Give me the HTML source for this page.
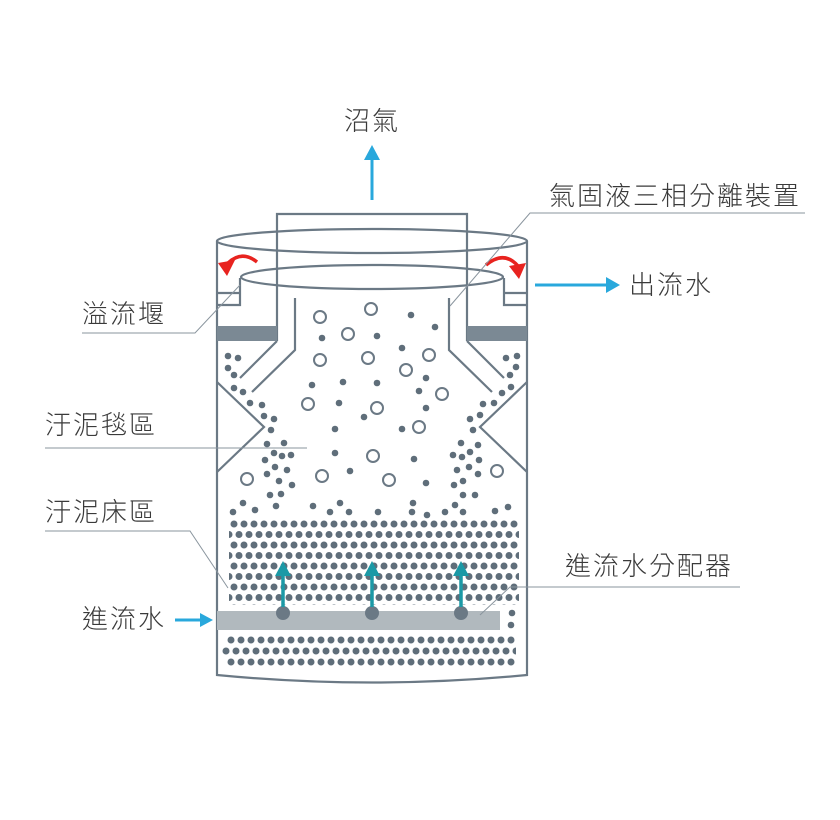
<!DOCTYPE html>
<html><head><meta charset="utf-8"><style>
html,body{margin:0;padding:0;background:#fff;}
svg{display:block}
text{font-family:"Liberation Sans","Noto Sans CJK TC","Noto Sans CJK SC",sans-serif;font-size:26px;fill:#3a3a3a;letter-spacing:2px;font-weight:300}
</style></head><body>
<svg width="840" height="820" viewBox="0 0 840 820" xmlns="http://www.w3.org/2000/svg">
<defs>
<pattern id="pa" x="229" y="519" width="10" height="21" patternUnits="userSpaceOnUse"><circle cx="5" cy="5" r="3.5" fill="#5f6e7a"/></pattern>
<pattern id="pa2" x="234" y="529.5" width="10" height="21" patternUnits="userSpaceOnUse"><circle cx="5" cy="5" r="3.5" fill="#5f6e7a"/></pattern>
<pattern id="pb" x="226" y="635" width="10" height="22" patternUnits="userSpaceOnUse"><circle cx="5" cy="5" r="3.5" fill="#5f6e7a"/></pattern>
<pattern id="pb2" x="221" y="646" width="10" height="22" patternUnits="userSpaceOnUse"><circle cx="5" cy="5" r="3.5" fill="#5f6e7a"/></pattern>
</defs>
<g fill="none" stroke="#6b7985" stroke-width="2.2">
<path d="M217,241 V675 Q372,690 527,675 V241"/>
<path d="M217,382 L264,427 L217,472 M527,382 L480,427 L527,472"/>
<path d="M277,341 V214 H467 V341"/>
<ellipse cx="372" cy="241" rx="155" ry="12"/>
<ellipse cx="372" cy="277" rx="131" ry="12"/>
<path d="M240,278 V305 H217 M240,293 H217"/>
<path d="M504,278 V305 H527 M504,293 H527"/>
<path d="M277,341 L240,378 M295,298 V350 L252,392"/>
<path d="M467,341 L504,378 M449,298 V350 L492,392"/>
</g>
<rect x="217" y="326" width="60" height="15" fill="#7b8994"/>
<rect x="467" y="326" width="60" height="15" fill="#7b8994"/>
<rect x="229" y="519" width="290" height="86" fill="url(#pa)"/>
<rect x="229" y="529.5" width="290" height="76" fill="url(#pa2)"/>
<rect x="226" y="635" width="290" height="34" fill="url(#pb)"/>
<rect x="221" y="646" width="295" height="12" fill="url(#pb2)"/>
<rect x="217" y="611" width="283" height="19" fill="#b1b9be"/>
<g fill="#6b7985"><circle cx="283" cy="613" r="7"/><circle cx="372" cy="613" r="7"/><circle cx="461" cy="613" r="7"/></g>
<g fill="#5f6e7a">
<circle cx="512" cy="613" r="3.3"/><circle cx="511" cy="625" r="3.3"/>
<circle cx="233" cy="512" r="3.3"/><circle cx="255" cy="510" r="3.3"/><circle cx="243" cy="503" r="3.3"/><circle cx="276" cy="506" r="3.3"/><circle cx="313" cy="506" r="3.3"/><circle cx="330" cy="512" r="3.3"/><circle cx="340" cy="503" r="3.3"/><circle cx="349" cy="512" r="3.3"/><circle cx="378" cy="512" r="3.3"/><circle cx="412" cy="512" r="3.3"/><circle cx="413" cy="503" r="3.3"/><circle cx="427" cy="515" r="3.3"/><circle cx="445" cy="512" r="3.3"/><circle cx="455" cy="505" r="3.3"/><circle cx="463" cy="512" r="3.3"/><circle cx="495" cy="511" r="3.3"/><circle cx="508" cy="507" r="3.3"/>
<circle cx="228" cy="356" r="3.3"/><circle cx="238" cy="358" r="3.3"/><circle cx="228" cy="368" r="3.3"/><circle cx="234" cy="375" r="3.3"/><circle cx="234" cy="388" r="3.3"/><circle cx="243" cy="392" r="3.3"/><circle cx="250" cy="403" r="3.3"/><circle cx="262" cy="405" r="3.3"/><circle cx="264" cy="416" r="3.3"/><circle cx="274" cy="419" r="3.3"/><circle cx="271" cy="430" r="3.3"/><circle cx="267" cy="444" r="3.3"/><circle cx="284" cy="443" r="3.3"/><circle cx="274" cy="453" r="3.3"/><circle cx="282" cy="456" r="3.3"/><circle cx="291" cy="455" r="3.3"/><circle cx="265" cy="460" r="3.3"/><circle cx="275" cy="467" r="3.3"/><circle cx="287" cy="470" r="3.3"/><circle cx="267" cy="474" r="3.3"/><circle cx="279" cy="481" r="3.3"/><circle cx="292" cy="485" r="3.3"/><circle cx="270" cy="495" r="3.3"/><circle cx="281" cy="494" r="3.3"/>
<circle cx="517" cy="356" r="3.3"/><circle cx="506" cy="358" r="3.3"/><circle cx="516" cy="367" r="3.3"/><circle cx="510" cy="375" r="3.3"/><circle cx="511" cy="387" r="3.3"/><circle cx="502" cy="393" r="3.3"/><circle cx="494" cy="403" r="3.3"/><circle cx="483" cy="404" r="3.3"/><circle cx="480" cy="415" r="3.3"/><circle cx="470" cy="419" r="3.3"/><circle cx="473" cy="430" r="3.3"/><circle cx="461" cy="443" r="3.3"/><circle cx="478" cy="445" r="3.3"/><circle cx="453" cy="455" r="3.3"/><circle cx="462" cy="457" r="3.3"/><circle cx="470" cy="452" r="3.3"/><circle cx="479" cy="460" r="3.3"/><circle cx="457" cy="470" r="3.3"/><circle cx="469" cy="467" r="3.3"/><circle cx="478" cy="474" r="3.3"/><circle cx="454" cy="485" r="3.3"/><circle cx="463" cy="481" r="3.3"/><circle cx="463" cy="495" r="3.3"/><circle cx="475" cy="495" r="3.3"/>
<circle cx="411" cy="315" r="3.3"/><circle cx="435" cy="327" r="3.3"/><circle cx="322" cy="338" r="3.3"/><circle cx="377" cy="336" r="3.3"/><circle cx="402" cy="348" r="3.3"/><circle cx="426" cy="378" r="3.3"/><circle cx="312" cy="385" r="3.3"/><circle cx="343" cy="382" r="3.3"/><circle cx="377" cy="383" r="3.3"/><circle cx="419" cy="391" r="3.3"/><circle cx="339" cy="403" r="3.3"/><circle cx="364" cy="417" r="3.3"/><circle cx="426" cy="408" r="3.3"/><circle cx="335" cy="429" r="3.3"/><circle cx="402" cy="429" r="3.3"/><circle cx="335" cy="453" r="3.3"/><circle cx="414" cy="459" r="3.3"/><circle cx="350" cy="471" r="3.3"/><circle cx="426" cy="483" r="3.3"/>
</g>
<g fill="none" stroke="#6b7985" stroke-width="2">
<circle cx="320" cy="317" r="6"/><circle cx="371" cy="309" r="6"/><circle cx="348" cy="334" r="6"/><circle cx="320" cy="360" r="6"/><circle cx="368" cy="358" r="6"/><circle cx="429" cy="355" r="6"/><circle cx="406" cy="370" r="6"/><circle cx="442" cy="394" r="6"/><circle cx="308" cy="404" r="6"/><circle cx="377" cy="408" r="6"/><circle cx="419" cy="427" r="6"/><circle cx="373" cy="456" r="6"/><circle cx="322" cy="476" r="6"/><circle cx="389" cy="480" r="6"/><circle cx="247" cy="479" r="6"/><circle cx="497" cy="471" r="6"/>
</g>
<g fill="#1b99a6" stroke="#1b99a6">
<path d="M283,607 V572 M372,607 V572 M461,607 V572" stroke-width="3.5"/>
<path d="M275,576 L283,561 L291,576Z M364,576 L372,561 L380,576Z M453,576 L461,561 L469,576Z" stroke="none"/>
</g>
<g fill="#29a8dc" stroke="#29a8dc">
<path d="M372,200 V158 M535,285 H608 M175,620 H202" stroke-width="3"/>
<path d="M364,160 L372,145 L380,160Z M606,277 L620,285 L606,293Z M200,613 L213,620 L200,627Z" stroke="none"/>
</g>
<g fill="none" stroke="#e8231f" stroke-width="3.5">
<path d="M257,262 Q242,250 228,263"/>
<path d="M486,265 Q504,250 518,266"/>
</g>
<g fill="#e8231f"><path d="M218,263 L235,260 L227,276Z"/><path d="M509,266 L526,263 L519,279Z"/></g>
<g fill="none" stroke="#8a959e" stroke-width="1">
<path d="M805,213 H530 L450,306"/>
<path d="M82,333 H195 L240,285"/>
<path d="M45,448 H307"/>
<path d="M45,531 H190 L228,588"/>
<path d="M740,587 H510 L480,615"/>
</g>
<text x="344" y="130">沼氣</text>
<text x="549" y="205">氣固液三相分離裝置</text>
<text x="629" y="294">出流水</text>
<text x="82" y="323">溢流堰</text>
<text x="45" y="434">汙泥毯區</text>
<text x="45" y="521">汙泥床區</text>
<text x="565" y="575">進流水分配器</text>
<text x="82" y="628">進流水</text>
</svg>
</body></html>
